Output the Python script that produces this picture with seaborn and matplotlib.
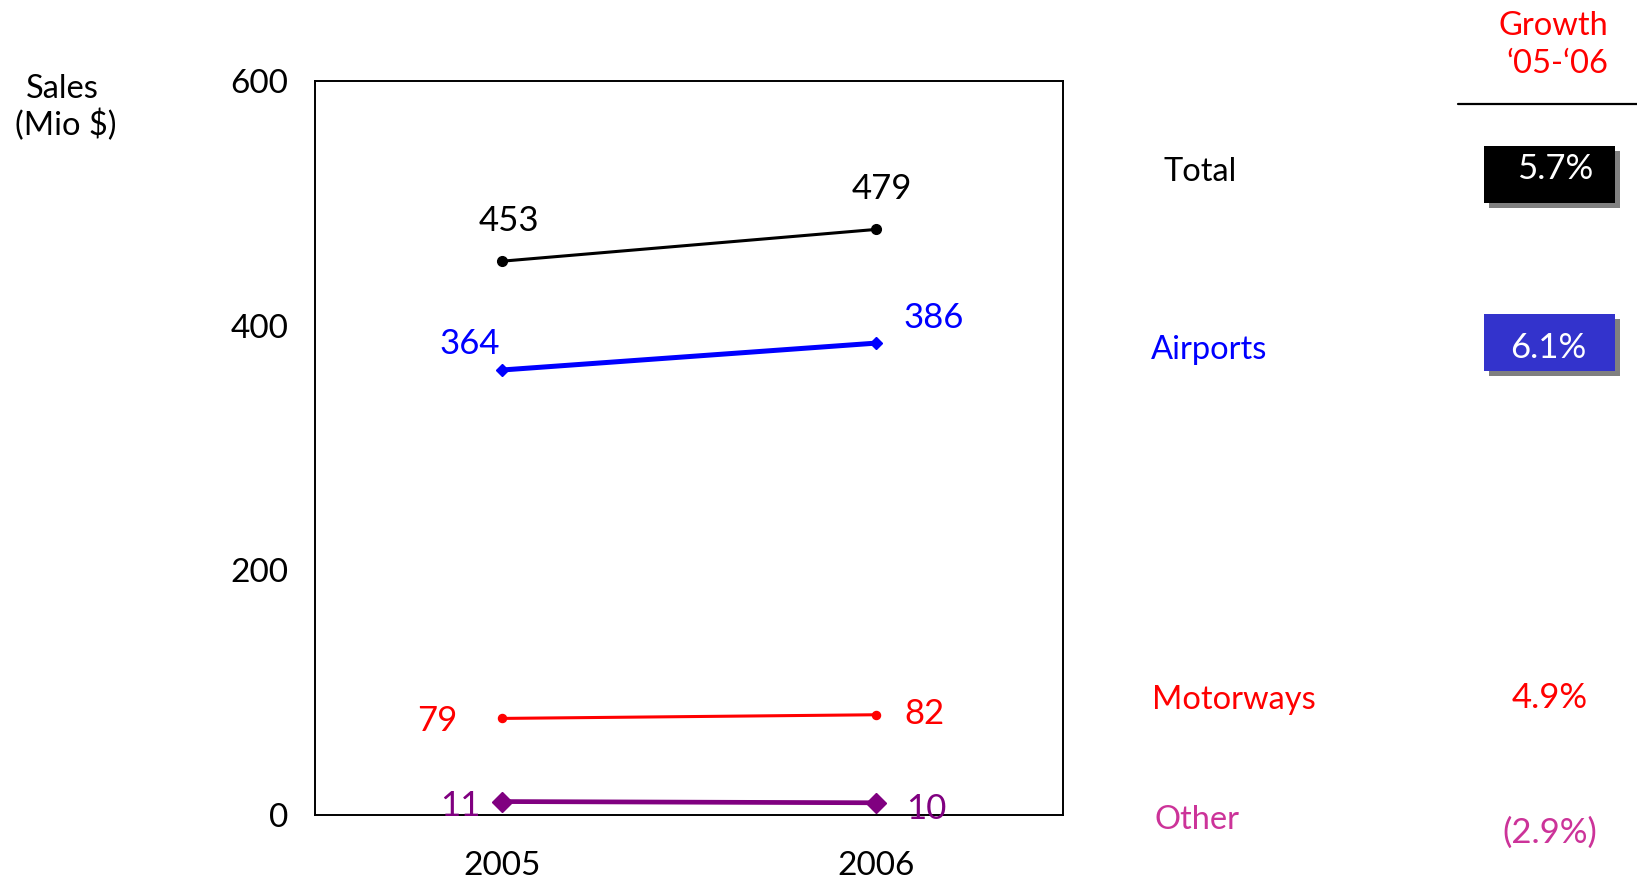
import matplotlib
matplotlib.use("Agg")
import matplotlib.pyplot as plt
import seaborn as sns
import pandas as pd
from matplotlib.patches import Rectangle
from matplotlib.lines import Line2D

# Sales by segment (Mio $)
years = ["2005", "2006"]
segments = ["Total", "Airports", "Motorways", "Other"]
total = [453, 479]
airports = [364, 386]
motorways = [79, 82]
other = [11, 10]
growth_labels = ["5.7%", "6.1%", "4.9%", "(2.9%)"]
y_ticks = [0, 200, 400, 600]

W, H = 1637, 880
FS = 23.5      # general text
FS_NUM = 25    # value labels and growth figures

sns.set_theme(style="white")
plt.rcParams["font.family"] = ["Lato", "DejaVu Sans"]

fig = plt.figure(figsize=(W / 100, H / 100), dpi=100)
ax = fig.add_axes([315 / W, 1 - 815 / H, (1063 - 315) / W, (815 - 81.5) / H])

df = pd.DataFrame({
    "year": years * len(segments),
    "segment": [s for s in segments for _ in years],
    "sales": total + airports + motorways + other,
})

styles = {
    "Total":     dict(color="#000000", marker="o", lw=2.2, ms=7.0),
    "Airports":  dict(color="#0000FF", marker="D", lw=3.6, ms=6.5),
    "Motorways": dict(color="#FF0000", marker="o", lw=2.2, ms=5.8),
    "Other":     dict(color="#800080", marker="D", lw=3.4, ms=10.5),
}
# value label offsets from each point, in pixels (visual centre of the digits)
label_offsets = {
    "Total":     [(7, 43), (6, 43)],
    "Airports":  [(-32, 28), (58, 27)],
    "Motorways": [(-65, 0), (48, 3)],
    "Other":     [(-42, -2), (50, -4)],
}

for seg in segments:
    st = styles[seg]
    sub = df[df["segment"] == seg]
    sns.lineplot(data=sub, x="year", y="sales", ax=ax, color=st["color"],
                 marker=st["marker"], linewidth=st["lw"], markersize=st["ms"],
                 markeredgecolor=st["color"], markeredgewidth=1, legend=False)
    for i, (yr, val) in enumerate(zip(sub["year"], sub["sales"])):
        dx, dy = label_offsets[seg][i]
        ax.annotate(f"{val}", xy=(i, val), xytext=(dx, dy - 12.3),
                    textcoords="offset pixels", ha="center", va="baseline",
                    fontsize=FS_NUM, color=st["color"], annotation_clip=False)

ax.set_xlim(-0.5, 1.5)
ax.set_ylim(0, 600)
ax.set_yticks(y_ticks)
ax.set_xlabel("")
ax.set_ylabel("")
ax.tick_params(axis="y", length=0, pad=19.4, labelsize=24, labelcolor="#000000")
ax.tick_params(axis="x", length=0, pad=26, labelsize=24, labelcolor="#000000")
for sp in ax.spines.values():
    sp.set_visible(True)
    sp.set_color("#000000")
    sp.set_linewidth(1.4)
ax.grid(False)


def fx(x):
    return x / W


def fy(y):
    return 1 - y / H


# axis title
fig.text(fx(62), fy(98), "Sales", ha="center", va="baseline", fontsize=FS, color="#000000")
fig.text(fx(66), fy(135), "(Mio $)", ha="center", va="baseline", fontsize=FS, color="#000000")

# growth column header
fig.text(fx(1553), fy(35), "Growth", ha="center", va="baseline", fontsize=FS, color="#FF0000")
fig.text(fx(1557), fy(73), "\u201805-\u201806", ha="center", va="baseline", fontsize=FS, color="#FF0000")
fig.add_artist(Line2D([fx(1458), fx(1637)], [fy(104), fy(104)], color="#000000",
                      lw=1.6, transform=fig.transFigure))

# segment names
name_pos = {"Total": (1163, 181), "Airports": (1151, 359),
            "Motorways": (1152, 709), "Other": (1154, 829)}
name_colors = {"Total": "#000000", "Airports": "#0000FF",
               "Motorways": "#FF0000", "Other": "#CC3399"}
for seg in segments:
    x, y = name_pos[seg]
    fig.text(fx(x), fy(y), seg, ha="left", va="baseline", fontsize=FS, color=name_colors[seg])

# growth values; the first two sit on shadowed boxes
boxes = {"Total": ("#000000", 146, 203), "Airports": ("#3333CC", 314, 371)}
for seg, (col, top, bot) in boxes.items():
    fig.add_artist(Rectangle((fx(1489), fy(bot + 5)), (1615 - 1484) / W, (bot - top) / H,
                             transform=fig.transFigure, facecolor="#808080", edgecolor="none"))
    fig.add_artist(Rectangle((fx(1484), fy(bot)), (1615 - 1484) / W, (bot - top) / H,
                             transform=fig.transFigure, facecolor=col, edgecolor="none"))

growth_pos = {"Total": (1555, 179), "Airports": (1548, 358),
              "Motorways": (1550, 708), "Other": (1550, 843)}
growth_colors = {"Total": "#FFFFFF", "Airports": "#FFFFFF",
                 "Motorways": "#FF0000", "Other": "#CC3399"}
for seg, lab in zip(segments, growth_labels):
    x, y = growth_pos[seg]
    fig.text(fx(x), fy(y), lab, ha="center", va="baseline", fontsize=FS_NUM, color=growth_colors[seg])

fig.savefig("out.png", dpi=100)
